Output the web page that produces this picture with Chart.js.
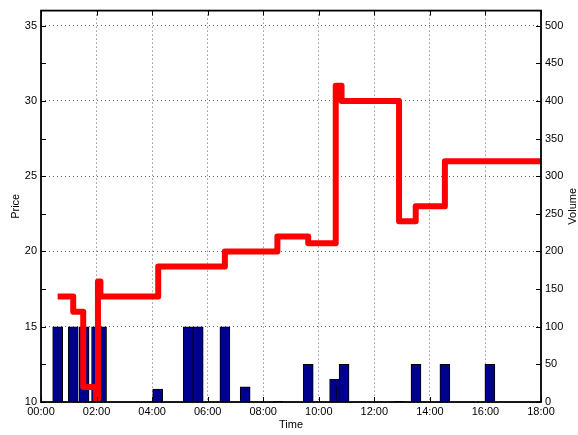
<!DOCTYPE html>
<html>
<head>
<meta charset="utf-8">
<script src="https://cdn.jsdelivr.net/npm/chart.js@4/dist/chart.umd.min.js"></script>
<style>
  html, body { margin: 0; padding: 0; background: #fff; }
  #wrap { width: 578px; height: 435px; }
</style>
</head>
<body>
<div id="wrap"><canvas id="myChart" width="578" height="435"></canvas></div>
<script>
// trade price steps: time of change (hours) and new price
const priceTimes = [0.60, 1.16, 1.52, 1.98, 2.05, 2.14, 4.22, 6.62, 8.51, 9.62, 10.61, 10.82, 12.89, 13.49, 14.54, 18.0];
const priceValues = [17, 16, 11, 10.2, 18, 17, 19, 20, 21, 20.55, 31, 30, 22, 23, 26, 26];

// traded volume per trade
const barTimes = [0.60, 1.16, 1.55, 2.00, 2.18, 4.20, 5.30, 5.66, 6.62, 7.35, 8.54, 9.62, 10.57, 10.80, 10.91, 12.89, 13.50, 14.54, 16.16];
const barVolumes = [100, 100, 100, 100, 100, 17, 100, 100, 100, 20, 1, 50, 30, 20, 50, 1, 50, 50, 50];

const timeTicks = [0, 2, 4, 6, 8, 10, 12, 14, 16, 18];
const priceTicks = [10, 15, 20, 25, 30, 35];
const volumeTicks = [0, 50, 100, 150, 200, 250, 300, 350, 400, 450, 500];

const FONT = 'Liberation Sans, Arial, sans-serif';

const fmtTime = v => String(v).padStart(2, '0') + ':00';

// box, inward tick marks and axis titles
const axesBox = {
    id: 'axesBox',
    afterDraw(chart) {
        const ctx = chart.ctx;
        const a = chart.chartArea;
        const sx = chart.scales.x, sy = chart.scales.y, sv = chart.scales.y1;
        const tl = 5;
        ctx.save();
        ctx.strokeStyle = '#000';
        ctx.lineWidth = 1;
        ctx.beginPath();
        timeTicks.forEach(t => {
            const x = Math.round(sx.getPixelForValue(t)) + 0.5;
            ctx.moveTo(x, a.bottom); ctx.lineTo(x, a.bottom - tl);
            ctx.moveTo(x, a.top); ctx.lineTo(x, a.top + tl);
        });
        priceTicks.forEach(p => {
            const y = Math.round(sy.getPixelForValue(p)) + 0.5;
            ctx.moveTo(a.left, y); ctx.lineTo(a.left + tl, y);
        });
        volumeTicks.forEach(v => {
            const y = Math.round(sv.getPixelForValue(v)) + 0.5;
            ctx.moveTo(a.right, y); ctx.lineTo(a.right - tl, y);
            ctx.moveTo(a.left, y); ctx.lineTo(a.left + tl, y);
        });
        ctx.stroke();
        ctx.lineWidth = 1.8;
        ctx.strokeRect(a.left, a.top, a.right - a.left, a.bottom - a.top);

        ctx.fillStyle = '#000';
        ctx.font = '11px ' + FONT;
        ctx.textAlign = 'center';
        ctx.textBaseline = 'middle';
        ctx.fillText('Time', (a.left + a.right) / 2, 425);
        const midY = (a.top + a.bottom) / 2;
        ctx.translate(16, midY);
        ctx.rotate(-Math.PI / 2);
        ctx.fillText('Price', 0, 0);
        ctx.rotate(Math.PI / 2);
        ctx.translate(573 - 16, 0);
        ctx.rotate(-Math.PI / 2);
        ctx.fillText('Volume', 0, 0);
        ctx.restore();
    }
};

const ctx = document.getElementById('myChart').getContext('2d');
const myChart = new Chart(ctx, {
    type: 'bar',
    data: {
        datasets: [
            {
                type: 'line',
                label: 'Price',
                data: priceTimes.map((t, i) => ({ x: t, y: priceValues[i] })),
                yAxisID: 'y',
                borderColor: '#ff0000',
                borderWidth: 6,
                stepped: true,
                pointRadius: 0,
                borderJoinStyle: 'round',
                borderCapStyle: 'butt',
                fill: false,
                order: 0
            },
            {
                label: 'Volume',
                data: barTimes.map((t, i) => ({ x: t, y: barVolumes[i] })),
                yAxisID: 'y1',
                backgroundColor: '#00008f',
                borderColor: '#000',
                borderWidth: 1,
                barThickness: 10,
                order: 1
            }
        ]
    },
    options: {
        responsive: false,
        animation: false,
        layout: { padding: { top: 6, left: 0, right: 0, bottom: 0 } },
        plugins: {
            legend: { display: false },
            tooltip: { enabled: false }
        },
        scales: {
            x: {
                type: 'linear',
                min: 0,
                max: 18,
                offset: false,
                afterBuildTicks: s => { s.ticks = timeTicks.map(v => ({ value: v })); },
                afterFit: s => { s.height = 33; },
                grid: { offset: false, drawTicks: false, color: 'rgba(0,0,0,0.6)' },
                border: { display: false, dash: [1, 3] },
                ticks: {
                    autoSkip: false,
                    maxRotation: 0,
                    padding: 3,
                    color: '#000',
                    font: { size: 11, family: FONT },
                    callback: v => fmtTime(v)
                }
            },
            y: {
                position: 'left',
                min: 10,
                max: 36,
                afterBuildTicks: s => { s.ticks = priceTicks.map(v => ({ value: v })); },
                afterFit: s => { s.width = 41; },
                grid: { drawTicks: false, color: 'rgba(0,0,0,0.6)' },
                border: { display: false, dash: [1, 3] },
                ticks: {
                    padding: 4,
                    color: '#000',
                    font: { size: 11, family: FONT }
                }
            },
            y1: {
                position: 'right',
                min: 0,
                max: 520,
                afterBuildTicks: s => { s.ticks = volumeTicks.map(v => ({ value: v })); },
                afterFit: s => { s.width = 37; },
                grid: { display: false, drawTicks: false },
                border: { display: false },
                ticks: {
                    padding: 4,
                    color: '#000',
                    font: { size: 11, family: FONT }
                }
            }
        }
    },
    plugins: [axesBox]
});
</script>
</body>
</html>
